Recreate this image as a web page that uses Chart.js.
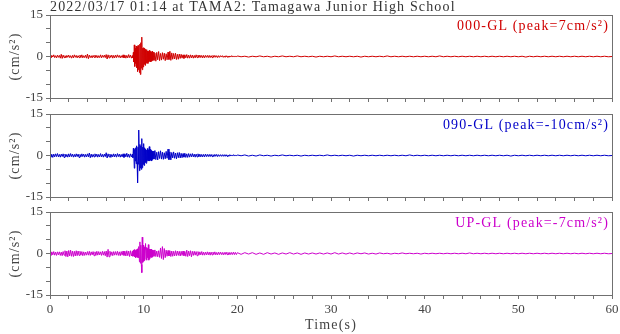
<!DOCTYPE html>
<html>
<head>
<meta charset="utf-8">
<script src="https://cdn.jsdelivr.net/npm/chart.js@4.4.1/dist/chart.umd.min.js"></script>
<style>
  html, body { margin: 0; padding: 0; background: #fff; }
  #wrap { position: relative; width: 620px; height: 334px; overflow: hidden; background: #fff; }
  #wrap canvas { position: absolute; left: 0; }
</style>
</head>
<body>
<div id="wrap">
  <canvas id="ch1" width="620" height="104" style="top:0"></canvas>
  <canvas id="ch2" width="620" height="104" style="top:99px"></canvas>
  <canvas id="ch3" width="620" height="137" style="top:197px"></canvas>
</div>
<script>
// Record header
const stationTitle = '2022/03/17 01:14 at TAMA2: Tamagawa Junior High School';
const channelNames = ['000-GL', '090-GL', 'UP-GL'];
const peakValues = [7, -10, -7];
const channelColors = ['#d00000', '#0000c8', '#cc00cc'];

// Sampling of the (read-off) traces: segment start time, interval and count
const segStart = [0, 8.8, 11, 20];
const segStep = [0.1, 0.05, 0.1, 0.4];
const segCount = [88, 44, 90, 101];

// Acceleration in cm/s^2
const accel000 = [
  // 0 - 8.7 s
  0.3,-0.5,0.4,-0.2,0.6,-0.4,0.3,-0.5,0.5,-0.3,
  0.4,-0.6,0.8,-0.7,0.5,-0.4,0.3,-0.5,0.4,-0.3,
  0.5,-0.4,0.3,-0.6,0.4,-0.5,0.6,-0.3,0.4,-0.5,
  0.3,-0.4,0.5,-0.4,0.6,-0.5,0.3,-0.4,0.5,-0.6,
  0.9,-0.8,0.5,-0.4,0.3,-0.5,0.4,-0.3,0.5,-0.4,
  0.4,-0.5,0.3,-0.4,0.6,-0.5,0.4,-0.3,0.5,-0.4,
  0.7,-0.9,0.6,-0.5,0.4,-0.3,0.5,-0.6,0.4,-0.5,
  0.5,-0.4,0.6,-0.3,0.4,-0.5,0.3,-0.4,0.6,-0.5,
  0.5,-0.6,0.4,-0.5,0.7,-0.4,0.5,-0.6,
  // 8.8 - 10.95 s
  0.3,-0.5,1.5,-2.0,4.2,-3.6,3.0,-2.5,3.8,-4.0,
  3.5,-5.4,4.0,-4.8,3.2,-5.8,4.5,-6.5,5.0,-4.2,
  7.0,-4.8,3.0,-3.8,3.2,-2.8,3.0,-3.2,2.6,-2.4,
  2.5,-2.2,2.0,-2.5,1.8,-2.0,2.2,-1.6,1.8,-1.9,
  1.5,-1.7,1.9,-1.4,
  // 11 - 19.9 s
  1.6,-1.4,1.2,-1.7,1.5,-1.2,1.8,-1.5,1.1,-1.3,
  1.4,-1.0,1.2,-1.5,1.0,-1.2,1.6,-1.1,1.9,-1.4,
  1.3,-1.0,1.1,-0.9,1.2,-1.1,0.8,-1.0,0.9,-0.7,
  0.8,-0.6,0.6,-0.7,0.6,-0.5,0.7,-0.6,0.5,-0.6,
  0.6,-0.5,0.5,-0.6,0.4,-0.5,0.6,-0.4,0.5,-0.4,
  0.5,-0.4,0.4,-0.5,0.4,-0.5,0.4,-0.3,0.4,-0.4,
  0.4,-0.4,0.3,-0.4,0.4,-0.3,0.4,-0.3,0.3,-0.4,
  0.3,-0.3,0.3,-0.2,0.3,-0.3,0.2,-0.3,0.3,-0.2,
  0.2,-0.3,0.2,-0.2,0.3,-0.2,0.2,-0.2,0.2,-0.2,
  // 20 - 60 s
  0.2,-0.1,0.1,-0.2,0.1,-0.1,0.2,-0.1,0.1,-0.2,
  0.1,-0.1,0.2,-0.1,0.1,-0.1,0.2,-0.1,0.1,-0.1,
  0.1,-0.2,0.1,-0.1,0.1,-0.1,0.2,-0.1,0.1,-0.1,
  0.1,-0.1,0.1,-0.2,0.1,-0.1,0.1,-0.1,0.1,-0.1,
  0.2,-0.1,0.1,-0.1,0.1,-0.1,0.1,-0.1,0.1,-0.1,
  0.1,-0.1,0.1,-0.1,0.2,-0.1,0.1,-0.1,0.1,-0.1,
  0.1,-0.1,0.1,-0.1,0.1,-0.1,0.1,-0.1,0.1,-0.1,
  0.1,-0.1,0.1,-0.1,0.1,-0.1,0.1,-0.2,0.1,-0.1,
  0.1,-0.1,0.1,-0.1,0.1,-0.1,0.1,-0.1,0.1,-0.1,
  0.1,-0.1,0.1,-0.1,0.1,-0.1,0.1,-0.1,0.1,-0.1,
  0.0
];

const accel090 = [
  0.5,-0.6,0.4,-0.7,0.5,-0.5,0.6,-0.4,0.7,-0.5,
  0.4,-0.6,0.5,-0.4,0.6,-0.7,0.5,-0.5,0.4,-0.6,
  0.6,-0.5,0.7,-0.4,0.5,-0.6,0.4,-0.5,0.6,-0.4,
  0.5,-0.7,0.4,-0.5,0.6,-0.4,0.5,-0.6,0.4,-0.5,
  0.6,-0.5,0.9,-0.8,0.5,-0.6,0.4,-0.5,0.6,-0.4,
  0.5,-0.6,0.4,-0.5,0.7,-0.5,0.4,-0.6,0.5,-0.4,
  1.0,-0.9,0.6,-0.5,0.5,-0.7,0.4,-0.5,0.6,-0.5,
  0.5,-0.6,0.7,-0.4,0.5,-0.6,0.4,-0.5,0.6,-0.7,
  0.6,-0.5,0.8,-0.6,0.5,-0.7,0.6,-0.5,
  0.5,-0.8,2.6,0.6,-4.6,2.2,-2.0,2.8,-3.0,3.5,
  -2.5,-9.9,3.0,-3.2,9.2,-5.5,4.0,-4.5,3.5,-5.0,
  6.1,-4.4,3.0,-3.2,4.3,-3.6,2.8,-2.5,2.4,-2.8,
  2.0,-2.2,2.5,-1.8,2.0,-2.0,3.2,-2.0,2.2,-1.6,
  1.8,-2.0,1.5,-1.4,
  1.6,-1.3,1.8,-1.5,1.2,-1.6,1.4,-1.1,1.7,-1.3,
  1.2,-1.4,1.0,-1.2,1.5,-1.0,2.3,-1.5,1.3,-1.6,
  1.1,-0.9,1.3,-1.0,0.9,-1.2,1.0,-0.8,1.1,-0.9,
  0.8,-0.8,0.7,-0.6,0.8,-0.7,0.6,-0.7,0.7,-0.6,
  0.6,-0.5,0.7,-0.5,0.5,-0.6,0.5,-0.5,0.6,-0.5,
  0.5,-0.5,0.4,-0.5,0.4,-0.5,0.5,-0.4,0.4,-0.4,
  0.4,-0.4,0.4,-0.4,0.3,-0.4,0.4,-0.3,0.4,-0.4,
  0.3,-0.3,0.3,-0.3,0.3,-0.3,0.3,-0.3,0.3,-0.3,
  0.2,-0.3,0.3,-0.2,0.2,-0.2,0.3,-0.2,0.2,-0.2,
  0.2,-0.1,0.2,-0.2,0.1,-0.2,0.2,-0.1,0.1,-0.2,
  0.1,-0.1,0.2,-0.1,0.1,-0.1,0.1,-0.2,0.1,-0.1,
  0.1,-0.1,0.1,-0.1,0.2,-0.1,0.1,-0.1,0.1,-0.1,
  0.1,-0.2,0.1,-0.1,0.1,-0.1,0.1,-0.1,0.1,-0.1,
  0.1,-0.1,0.1,-0.1,0.1,-0.1,0.2,-0.1,0.1,-0.1,
  0.1,-0.1,0.1,-0.1,0.1,-0.1,0.1,-0.1,0.1,-0.1,
  0.1,-0.1,0.1,-0.1,0.1,-0.1,0.1,-0.1,0.1,-0.1,
  0.1,-0.1,0.1,-0.2,0.1,-0.1,0.1,-0.1,0.1,-0.1,
  0.1,-0.1,0.1,-0.1,0.1,-0.1,0.1,-0.1,0.1,-0.1,
  0.1,-0.1,0.1,-0.1,0.1,-0.1,0.1,-0.1,0.1,-0.1,
  0.0
];

const accelUD = [
  0.5,-0.7,0.6,-0.5,0.7,-0.6,0.5,-0.7,0.6,-0.5,
  0.6,-0.7,0.5,-0.8,0.7,-0.6,1.0,-1.1,0.9,-1.2,
  1.1,-0.9,1.2,-1.0,0.9,-1.1,0.8,-0.9,1.0,-0.8,
  0.9,-0.7,0.8,-0.6,0.7,-0.8,0.6,-0.7,0.5,-0.6,
  0.7,-0.6,0.8,-0.7,0.6,-0.5,0.7,-0.8,0.6,-0.7,
  0.8,-0.6,0.7,-0.5,0.6,-0.7,0.8,-0.6,0.7,-0.8,
  0.9,-1.3,1.5,-1.2,0.8,-0.7,0.6,-0.8,0.7,-0.6,
  0.7,-0.6,0.8,-0.7,0.6,-0.8,0.7,-0.6,0.9,-0.7,
  0.8,-0.9,1.0,-0.8,0.9,-1.1,1.0,-0.9,
  0.8,-1.0,1.2,-0.9,1.4,-1.2,1.0,-1.5,1.3,-1.1,
  1.6,-1.4,1.8,-1.6,2.5,-3.0,4.2,-3.5,3.0,-4.0,
  -6.9,5.9,-3.2,3.0,-2.8,2.4,-2.5,1.5,3.6,-2.0,
  2.2,-2.4,1.8,-1.5,3.2,-2.4,1.6,-1.8,1.5,-1.3,
  1.6,-1.4,1.2,-1.3,
  1.2,-1.0,1.3,-1.1,0.9,-1.2,1.0,-1.4,2.0,-1.8,
  2.5,-2.2,1.8,-1.5,1.2,-1.0,1.1,-0.9,1.0,-1.1,
  0.9,-1.0,0.8,-0.9,1.0,-0.8,0.9,-0.7,0.8,-0.9,
  0.8,-0.7,0.9,-0.8,0.7,-1.0,1.2,-1.1,0.9,-0.8,
  1.0,-1.2,0.8,-0.7,0.8,-0.6,0.7,-0.8,0.7,-0.6,
  0.6,-0.5,0.7,-0.6,0.5,-0.6,0.5,-0.5,0.6,-0.5,
  0.5,-0.6,0.5,-0.5,0.5,-0.4,0.6,-0.5,0.4,-0.5,
  0.5,-0.4,0.5,-0.4,0.4,-0.5,0.4,-0.4,0.5,-0.4,
  0.4,-0.5,0.4,-0.4,0.4,-0.4,0.5,-0.4,0.4,-0.4,
  0.3,-0.3,0.3,-0.2,0.3,-0.3,0.2,-0.3,0.3,-0.2,
  0.2,-0.3,0.2,-0.2,0.3,-0.2,0.2,-0.3,0.2,-0.2,
  0.2,-0.2,0.2,-0.2,0.2,-0.2,0.3,-0.2,0.2,-0.2,
  0.2,-0.2,0.2,-0.1,0.2,-0.2,0.1,-0.2,0.2,-0.1,
  0.1,-0.2,0.1,-0.1,0.2,-0.1,0.1,-0.1,0.1,-0.2,
  0.1,-0.1,0.1,-0.1,0.1,-0.1,0.1,-0.1,0.1,-0.1,
  0.1,-0.1,0.2,-0.1,0.1,-0.1,0.1,-0.1,0.1,-0.1,
  0.1,-0.1,0.1,-0.1,0.1,-0.1,0.1,-0.1,0.1,-0.1,
  0.1,-0.1,0.1,-0.1,0.1,-0.1,0.1,-0.1,0.1,-0.1,
  0.1,-0.1,0.1,-0.1,0.1,-0.1,0.1,-0.1,0.1,-0.1,
  0.0
];

// Axis ranges
const timeRange = [0, 60];
const accelRange = [-15, 15];
const yLabelValues = [-15, 0, 15];
const xLabelStep = 10;

const fontFamily = '"Liberation Serif", "Times New Roman", serif';
const frameColor = '#707070';
const axisTextColor = '#444';

// sample times from the segment description
const sampleTimes = [];
segStart.forEach((s, k) => {
  for (let i = 0; i < segCount[k]; i++) sampleTimes.push(+(s + i * segStep[k]).toFixed(2));
});

function toPoints(values) {
  const n = Math.min(values.length, sampleTimes.length);
  const pts = [];
  for (let i = 0; i < n; i++) pts.push({ x: sampleTimes[i], y: values[i] });
  return pts;
}

// Frame box, channel label, axis titles (spaced serif text like the original plot)
const panelText = {
  id: 'panelText',
  afterDraw(chart, args, opts) {
    const ctx = chart.ctx;
    const a = chart.chartArea;
    const px = v => Math.round(v - 0.5) + 0.5;
    ctx.save();
    ctx.strokeStyle = frameColor;
    ctx.lineWidth = 1;
    ctx.strokeRect(px(a.left), px(a.top), px(a.right) - px(a.left), px(a.bottom) - px(a.top));

    ctx.letterSpacing = '1.15px';
    ctx.font = '14px ' + fontFamily;
    ctx.textBaseline = 'middle';

    ctx.fillStyle = opts.color;
    ctx.textAlign = 'right';
    ctx.fillText(opts.label, a.right - 3, a.top + 11);

    ctx.fillStyle = axisTextColor;
    ctx.save();
    ctx.translate(15, (a.top + a.bottom) / 2);
    ctx.rotate(-Math.PI / 2);
    ctx.textAlign = 'center';
    ctx.fillText('(cm/s²)', 0, 0);
    ctx.restore();

    if (opts.title) {
      ctx.fillStyle = '#333';
      ctx.textAlign = 'left';
      ctx.fillText(opts.title, a.left, 7);
    }
    if (opts.xTitle) {
      ctx.textAlign = 'center';
      ctx.fillText(opts.xTitle, (a.left + a.right) / 2, a.bottom + 30);
    }
    ctx.restore();
  }
};

function makePanel(canvasId, k, isBottom) {
  const canvas = document.getElementById(canvasId);
  const xHeight = isBottom ? 39 : 6;
  return new Chart(canvas.getContext('2d'), {
    type: 'line',
    data: {
      datasets: [{
        data: toPoints([accel000, accel090, accelUD][k]),
        borderColor: channelColors[k],
        borderWidth: 1,
        pointRadius: 0,
        tension: 0,
        fill: false
      }]
    },
    options: {
      responsive: false,
      animation: false,
      events: [],
      layout: { padding: { top: 15, right: 8, left: 0, bottom: 0 } },
      scales: {
        x: {
          type: 'linear',
          min: timeRange[0],
          max: timeRange[1],
          afterFit: s => { s.height = xHeight; s.paddingLeft = 0; s.paddingRight = 0; },
          grid: { drawOnChartArea: false, drawTicks: true, tickLength: 4, color: frameColor },
          border: { display: true, color: frameColor },
          ticks: {
            stepSize: 2,
            autoSkip: false,
            maxRotation: 0,
            padding: 3,
            color: axisTextColor,
            font: { family: fontFamily, size: 13 },
            callback: v => (isBottom && v % xLabelStep === 0 ? String(v) : '')
          }
        },
        y: {
          min: accelRange[0],
          max: accelRange[1],
          afterFit: s => { s.width = 50; s.paddingTop = 0; s.paddingBottom = 0; },
          grid: { drawOnChartArea: false, drawTicks: true, tickLength: 4, color: frameColor },
          border: { display: true, color: frameColor },
          ticks: {
            stepSize: 5,
            autoSkip: false,
            padding: 3,
            color: axisTextColor,
            font: { family: fontFamily, size: 13 },
            callback: v => (yLabelValues.includes(v) ? String(v) : '')
          }
        }
      },
      plugins: {
        legend: { display: false },
        tooltip: { enabled: false },
        panelText: {
          color: channelColors[k],
          label: channelNames[k] + ' (peak=' + peakValues[k] + 'cm/s²)',
          title: k === 0 ? stationTitle : null,
          xTitle: isBottom ? 'Time(s)' : null
        }
      }
    },
    plugins: [panelText]
  });
}

makePanel('ch1', 0, false);
makePanel('ch2', 1, false);
makePanel('ch3', 2, true);
</script>
</body>
</html>
